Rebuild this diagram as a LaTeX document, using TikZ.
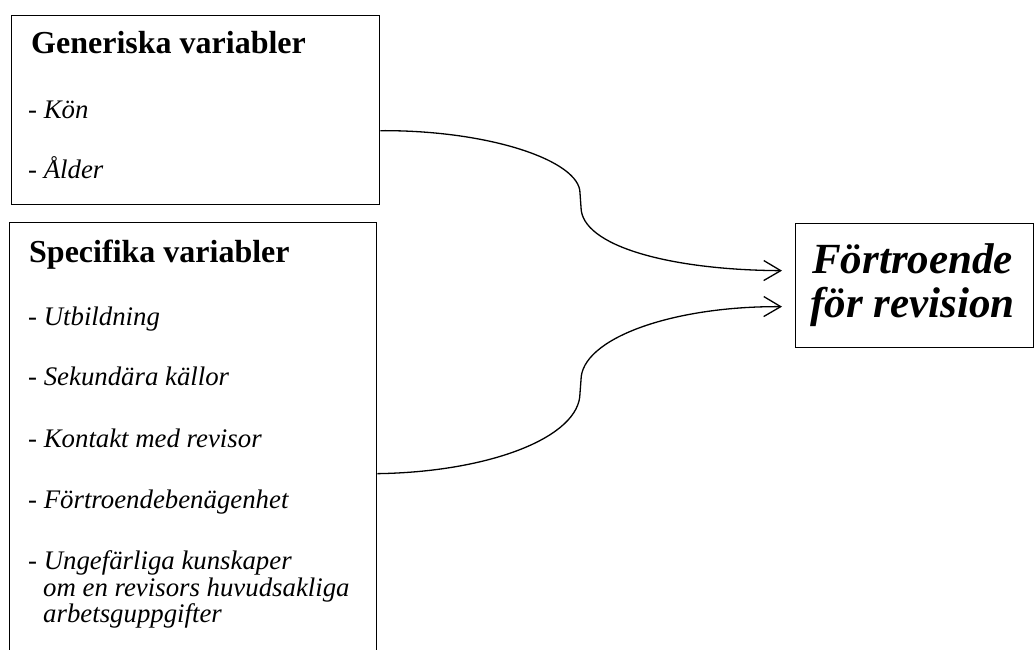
\documentclass[tikz,border=0pt]{standalone}
\usepackage{fontspec}
\setmainfont{Liberation Serif}
\usetikzlibrary{arrows.meta}
\tikzset{
  box/.style={draw, line width=1.3pt, inner sep=0pt, anchor=north west},
  head/.style={inner sep=0pt, anchor=base west, font=\fontsize{32}{36}\selectfont\bfseries},
  item/.style={inner sep=0pt, anchor=base west, font=\fontsize{26.8}{30}\selectfont\itshape},
  big/.style={inner sep=0pt, anchor=base west, font=\fontsize{43}{46}\selectfont\bfseries\itshape},
  link/.style={line width=1.3pt, -{Straight Barb[length=17pt,width=20pt,line width=1.3pt]}}
}
\begin{document}
\begin{tikzpicture}[x=1pt,y=-1pt]
\useasboundingbox (0,0) rectangle (1036,649);
% boxes
\node[box, minimum width=368pt, minimum height=189pt] (gen) at (11,15) {};
\node[box, minimum width=367pt, minimum height=440pt] (spec) at (9,222) {};
\node[box, minimum width=238pt, minimum height=124pt] (res) at (795,223) {};
% texts box 1
\node[head] (genh) at (31,53) {Generiska variabler};
\node[item] (g1) at (28,118) {- Kön};
\node[item] (g2) at (28,178) {- Ålder};
% texts box 2
\node[head] (spech) at (29,262) {Specifika variabler};
\node[item] (s1) at (28,325) {- Utbildning};
\node[item] (s2) at (28,385) {- Sekundära källor};
\node[item] (s3) at (28,447) {- Kontakt med revisor};
\node[item] (s4) at (28,508) {- Förtroendebenägenhet};
\node[item] (s5a) at (28,569) {- Ungefärliga kunskaper};
\node[item] (s5b) at (43,596) {om en revisors huvudsakliga};
\node[item] (s5c) at (43,622) {arbetsguppgifter};
% result text
\node[big] (r1) at (812,273) {Förtroende};
\node[big] (r2) at (810,317) {för revision};
% connectors
\coordinate (t1) at ([xshift=-13pt,yshift=15pt]res.west);
\coordinate (t2) at ([xshift=-13pt,yshift=-21pt]res.west);
\draw[link] ([yshift=-20.5pt]gen.east) .. controls (490,130) and (580,161) .. (580,193)
  -- (581,207) .. controls (581,246) and (670,270) .. (t1);
\draw[link] ([yshift=-31pt]spec.east) .. controls (490,472) and (580,437) .. (580,393)
  -- (581,380) .. controls (581,339) and (671,306) .. (t2);
\end{tikzpicture}
\end{document}
